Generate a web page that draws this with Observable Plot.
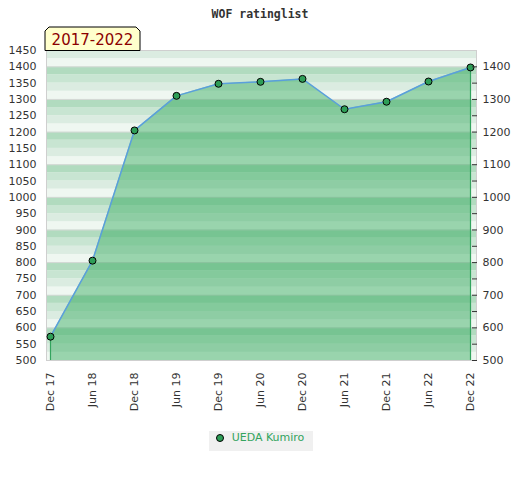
<!DOCTYPE html>
<html>
<head>
<meta charset="utf-8">
<script src="https://cdn.jsdelivr.net/npm/d3@7"></script>
<script src="https://cdn.jsdelivr.net/npm/@observablehq/plot@0.6"></script>
<style>
  body { margin: 0; background: #fff; width: 520px; }
  #title { box-sizing: border-box; height: 22px; padding-top: 7px; line-height: 13px; text-align: center; font: bold 11.5px "DejaVu Sans Mono", monospace; color: #333; }
  #chart svg { display: block; overflow: visible; }
  #legend { text-align: center; margin-top: 7px; }
  #legend .box { display: inline-block; background: #f0f0f0; height: 20px; line-height: 20px; padding: 0 9px 0 7px; font: 11px "DejaVu Sans", sans-serif; color: #33a45e; margin-left: 2px; }
  #legend .dot { display: inline-block; width: 6px; height: 6px; border-radius: 50%; background: #2e9e57; border: 1px solid #000; margin-right: 8px; vertical-align: -0.5px; }
</style>
</head>
<body>
<div id="title">WOF ratinglist</div>
<div id="chart"></div>
<div id="legend"><span class="box"><span class="dot"></span>UEDA Kumiro</span></div>
<script>
const periods = ["Dec 17","Jun 18","Dec 18","Jun 19","Dec 19","Jun 20","Dec 20","Jun 21","Dec 21","Jun 22","Dec 22"];
const ratings = [573, 806, 1205, 1311, 1348, 1354, 1363, 1270, 1293, 1355, 1398];
const leftTicks = d3.range(500, 1451, 50);
const rightTicks = d3.range(500, 1401, 50);
const gridLines = [500, 600, 700, 800, 900, 1000, 1100, 1200, 1300, 1400, 1450];
const stripeStarts = d3.range(500, 1450, 25);
const stripeShades = ["#eff7f1", "#dbece1", "#c8e5d2", "#b1dbbf"];
const periodLabel = "2017-2022";
const playerName = "UEDA Kumiro";

const data = periods.map((p, i) => ({period: p, rating: ratings[i]}));
const stripes = stripeStarts.map(v => ({y1: v, y2: v + 25, shade: stripeShades[(v % 100) / 25]}));
const ends = [data[0], data[data.length - 1]];

const plot = Plot.plot({
  width: 520,
  height: 398,
  marginTop: 28,
  marginBottom: 60,
  marginLeft: 46,
  marginRight: 44,
  style: {fontFamily: "DejaVu Sans, sans-serif", fontSize: "11px", color: "#333", background: "transparent", overflow: "visible"},
  x: {type: "point", domain: periods, padding: 0, insetLeft: 2, insetRight: 5},
  y: {domain: [500, 1450]},
  marks: [
    Plot.rect(stripes, {y1: "y1", y2: "y2", fill: d => d.shade}),
    Plot.ruleY(gridLines, {stroke: "#d6d9d7", strokeWidth: 1}),
    Plot.areaY(data, {x: "period", y1: 500, y2: "rating", fill: "rgb(49,169,91)", fillOpacity: 0.45}),
    Plot.ruleX(ends, {x: "period", y1: 500, y2: "rating", stroke: "#33a45e", strokeWidth: 1.2}),
    Plot.frame({stroke: "#cfcfcf"}),
    Plot.line(data, {x: "period", y: "rating", stroke: "#5a9fdc", strokeWidth: 1.5}),
    Plot.dot(data, {x: "period", y: "rating", r: 3.5, fill: "#2e9e57", stroke: "#000", strokeWidth: 1}),
    Plot.axisY(leftTicks, {anchor: "left", tickSize: 0, tickPadding: 10, label: null, tickFormat: d => String(d)}),
    Plot.axisY(rightTicks, {anchor: "right", tickSize: 5, tickPadding: 6, dx: -5, label: null, tickFormat: d => d % 100 === 0 ? String(d) : ""}),
    Plot.axisX({tickRotate: -90, tickSize: 0, tickPadding: 12, label: null})
  ]
});
document.getElementById("chart").appendChild(plot);

// period badge
const svg = d3.select(plot);
const g = svg.append("g");
g.append("polygon")
  .attr("points", "45,28.5 45,9 49,5 136,5 140,9 140,28.5")
  .attr("fill", "#ffffcc").attr("stroke", "#000").attr("stroke-width", 1);
g.append("text")
  .attr("x", 92.5).attr("y", 18)
  .attr("text-anchor", "middle").attr("dominant-baseline", "central")
  .attr("fill", "#8b0000")
  .style("font", "15px 'DejaVu Sans', sans-serif")
  .text(periodLabel);
</script>
</body>
</html>
